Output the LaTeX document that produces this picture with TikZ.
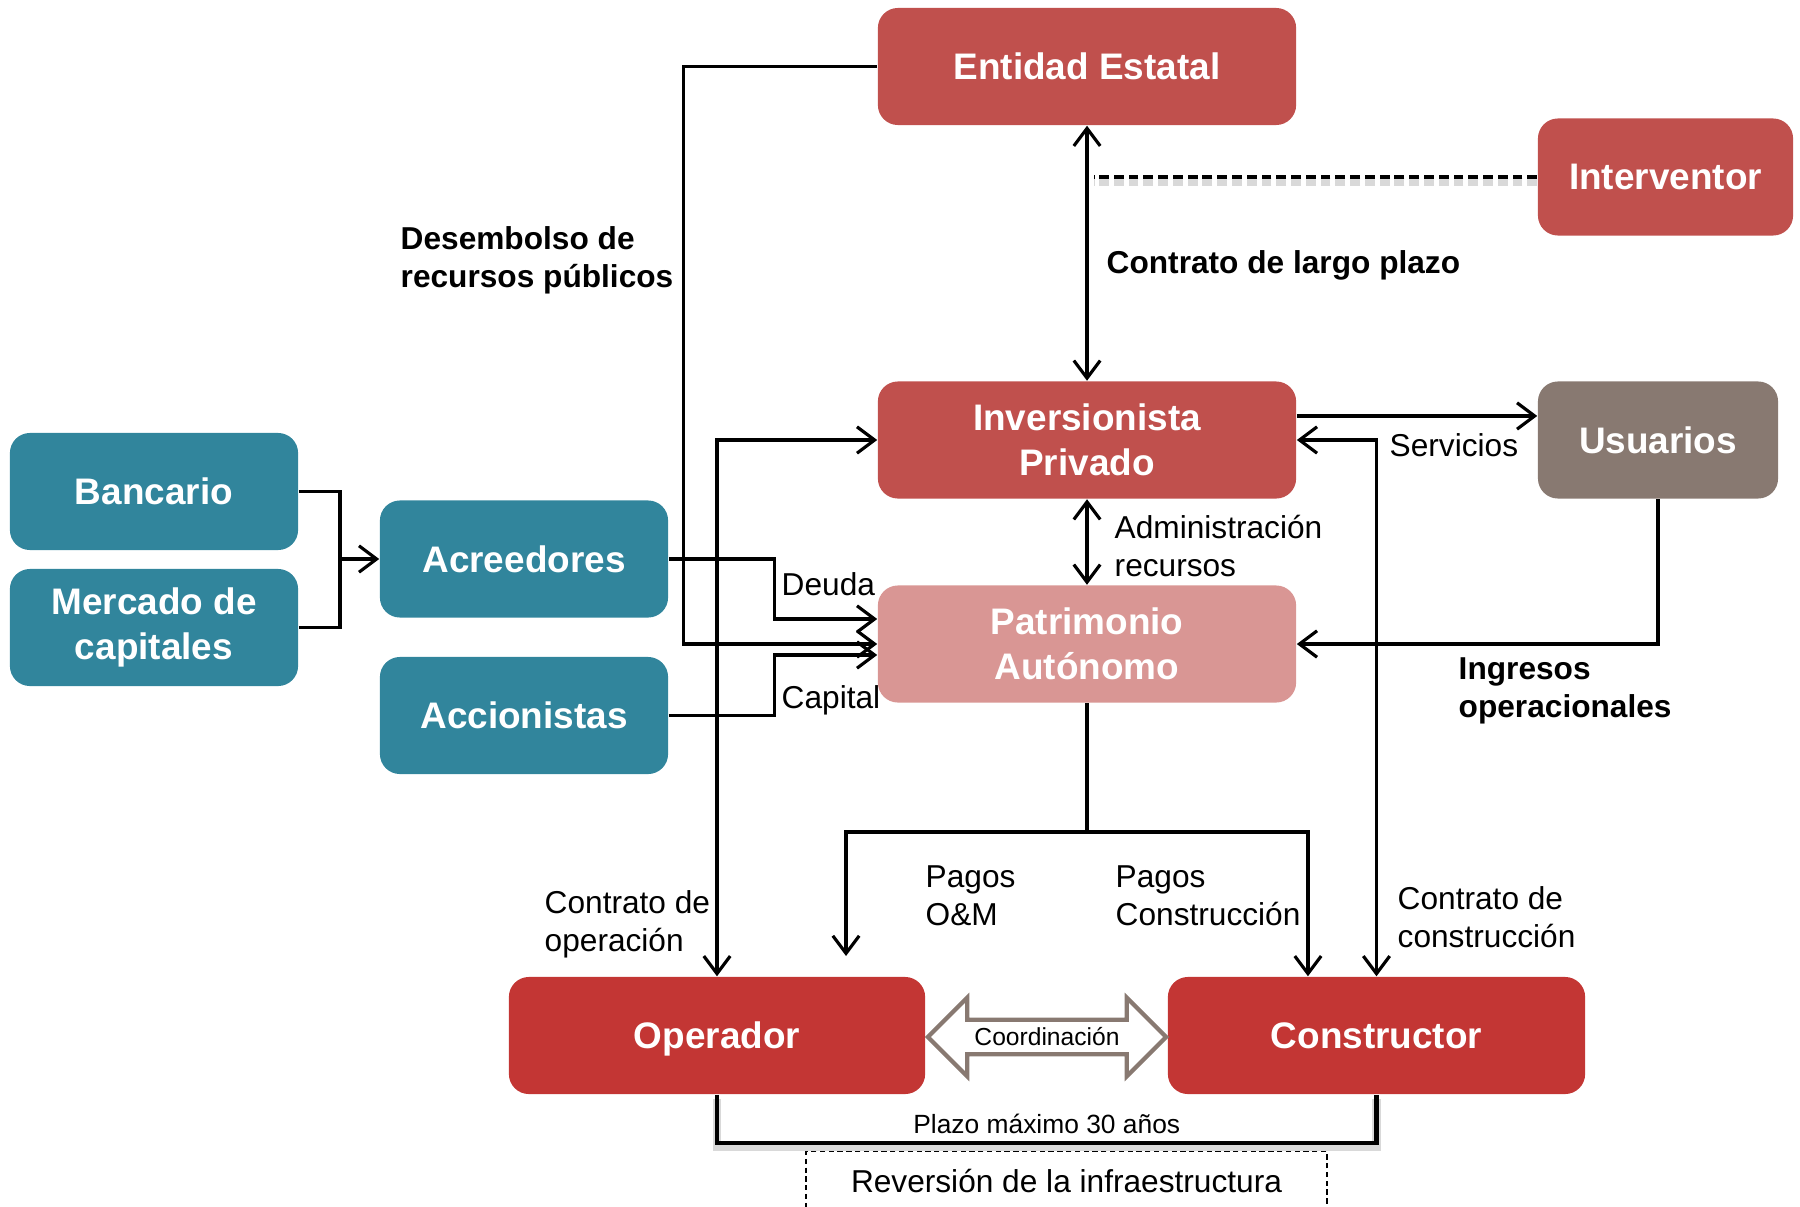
\documentclass[tikz,border=0pt]{standalone}
\usepackage{fontspec}
\setmainfont{Liberation Sans}
\usepackage{tikz}
\usetikzlibrary{
  positioning,
  arrows.meta,
  calc,
  shapes.arrows
}
\definecolor{azulcaja}{RGB}{49,133,156}
\definecolor{rojoest}{RGB}{192,80,77}
\definecolor{rosapat}{RGB}{217,150,148}
\definecolor{grisusu}{RGB}{136,121,113}
\definecolor{rojoop}{RGB}{195,54,52}
\tikzstyle{caja}=[rounded corners=2mm, text=white, align=center, inner sep=0pt, minimum height=1.17cm, font=\bfseries\fontsize{10.5}{12.8}\selectfont]
\tikzstyle{unalinea}=[text height=1.4ex, text depth=0pt]
\tikzstyle{linea}=[line width=0.9pt]
\tikzstyle{flecha}=[linea, -{Straight Barb[length=5pt,width=7.5pt]}]
\tikzstyle{dflecha}=[linea, {Straight Barb[length=5pt,width=7.5pt]}-{Straight Barb[length=5pt,width=7.5pt]}]
\tikzstyle{sombra}=[black!15, line width=2.5pt, transform canvas={yshift=-1.2pt}]
\tikzstyle{etiqueta}=[anchor=west, align=left, inner sep=0pt, font=\fontsize{9}{10.8}\selectfont]
\tikzstyle{etiquetab}=[etiqueta, font=\bfseries\fontsize{9}{10.8}\selectfont]

\begin{document}
\begin{tikzpicture}[x=0.01cm, y=-0.01cm]
    \def\anchoG{4.18cm} % cajas centrales
    \def\anchoA{2.88cm} % cajas de financiación

    \useasboundingbox (0,0) rectangle (1800,1206);

    % Cajas centrales
    \node[caja, fill=rojoest, minimum width=\anchoG] (ent) at (1087,66.5) {Entidad Estatal};
    \node[caja, fill=rojoest, minimum width=2.55cm] (int) at (1665.5,177) {Interventor};
    \node[caja, fill=rojoest, minimum width=\anchoG] (inv) at (1087,440) {Inversionista\\Privado};
    \node[caja, fill=grisusu, minimum width=2.40cm] (usu) at (1658,440) {Usuarios};
    \node[caja, fill=rosapat, minimum width=\anchoG] (pat) at (1087,644) {Patrimonio\\Autónomo};

    % Financiación
    \node[caja, fill=azulcaja, minimum width=\anchoA] (ban) at (154,491.5) {Bancario};
    \node[caja, fill=azulcaja, minimum width=\anchoA] (mer) at (154,627.5) {Mercado de\\capitales};
    \node[caja, fill=azulcaja, minimum width=\anchoA] (acr) at (524,559) {Acreedores};
    \node[caja, fill=azulcaja, minimum width=\anchoA] (acc) at (524,715.5) {Accionistas};

    % Operador y constructor
    \node[caja, unalinea, fill=rojoop, minimum width=4.16cm] (op) at (717,1035.5) {Operador};
    \node[caja, unalinea, fill=rojoop, minimum width=4.17cm] (cons) at (1376.5,1035.5) {Constructor};

    % Contrato de largo plazo e interventoría
    \draw[dflecha] (ent.south) -- (inv.north);
    \draw[sombra, dash pattern=on 2.8pt off 1.4pt] (int.west) -- ([xshift=0.07cm]ent.south |- int.west);
    \draw[line width=1.2pt, dash pattern=on 2.8pt off 1.4pt] (int.west) -- ([xshift=0.07cm]ent.south |- int.west);
    \node[etiquetab] (lcontrato) at (1106,265) {Contrato de largo plazo};

    % Desembolso de recursos públicos
    \draw[flecha] (ent.west) -- ++(-194,0) |- (pat.west);
    \node[etiquetab] (ldesemb) at (400,260) {Desembolso de\\recursos públicos};

    % Deuda y capital
    \coordinate (union) at (340,559);
    \draw[linea] (ban.east) -| (union);
    \draw[linea] (mer.east) -| (union);
    \draw[flecha] (union) -- (acr.west);
    \draw[flecha] (acr.east) -- ++(106,0) |- ([yshift=0.25cm]pat.west);
    \draw[flecha] (acc.east) -- ++(106,0) |- ([yshift=-0.11cm]pat.west);
    \node[etiqueta] (ldeuda) at (781,584) {Deuda};
    \node[etiqueta] (lcapital) at (781,700) {Capital};

    % Administración de recursos
    \draw[dflecha] (inv.south) -- (pat.north);
    \node[etiqueta] (ladmin) at (1114,546) {Administración\\recursos};

    % Servicios e ingresos
    \draw[flecha] ([yshift=0.24cm]inv.east) -- ([yshift=0.24cm]usu.west);
    \node[etiqueta] (lserv) at (1389,445) {Servicios};
    \draw[flecha] (usu.south) |- (pat.east);
    \node[etiquetab] (lingresos) at (1458,691) {Ingresos\\operacionales};

    % Contratos de operación y construcción
    \draw[dflecha] (op.north) |- (inv.west);
    \draw[dflecha] (cons.north) |- (inv.east);
    \node[etiqueta] (loper) at (544,924) {Contrato de\\operación};
    \node[etiqueta] (lconst) at (1397,917) {Contrato de\\construcción};

    % Pagos
    \draw[linea] (pat.south) -- (1087,832) coordinate (rama);
    \coordinate (pom) at (846,956);
    \draw[flecha] (rama) -| (pom);
    \draw[flecha] (rama) -| ([xshift=-0.685cm]cons.north);
    \node[etiqueta] (lpom) at (925,896) {Pagos\\O\&M};
    \node[etiqueta] (lpcons) at (1115,896) {Pagos\\Construcción};

    % Coordinación
    \node[double arrow, draw=grisusu, line width=1.2pt, fill=white,
          minimum height=2.38cm, double arrow head extend=0.22cm,
          inner xsep=0pt, inner ysep=0.06cm,
          font=\fontsize{7}{8}\selectfont] (coord) at (1047,1037) {Coordinación};

    % Plazo y reversión
    \draw[sombra] (op.south) -- ++(0,48) -| (cons.south);
    \draw[line width=1.2pt] (op.south) -- ++(0,48) coordinate (plz)
      -- (plz -| cons.south) node[midway, above=-1.5pt, font=\fontsize{7.5}{9}\selectfont] (lplazo) {Plazo máximo 30 años}
      -- (cons.south);
    \node[draw, line width=0.4pt, dash pattern=on 1.5pt off 1pt, anchor=north,
          minimum width=5.21cm, minimum height=0.58cm,
          font=\fontsize{9}{10.8}\selectfont] (rev) at (1066.5,1151) {Reversión de la infraestructura};
\end{tikzpicture}
\end{document}
